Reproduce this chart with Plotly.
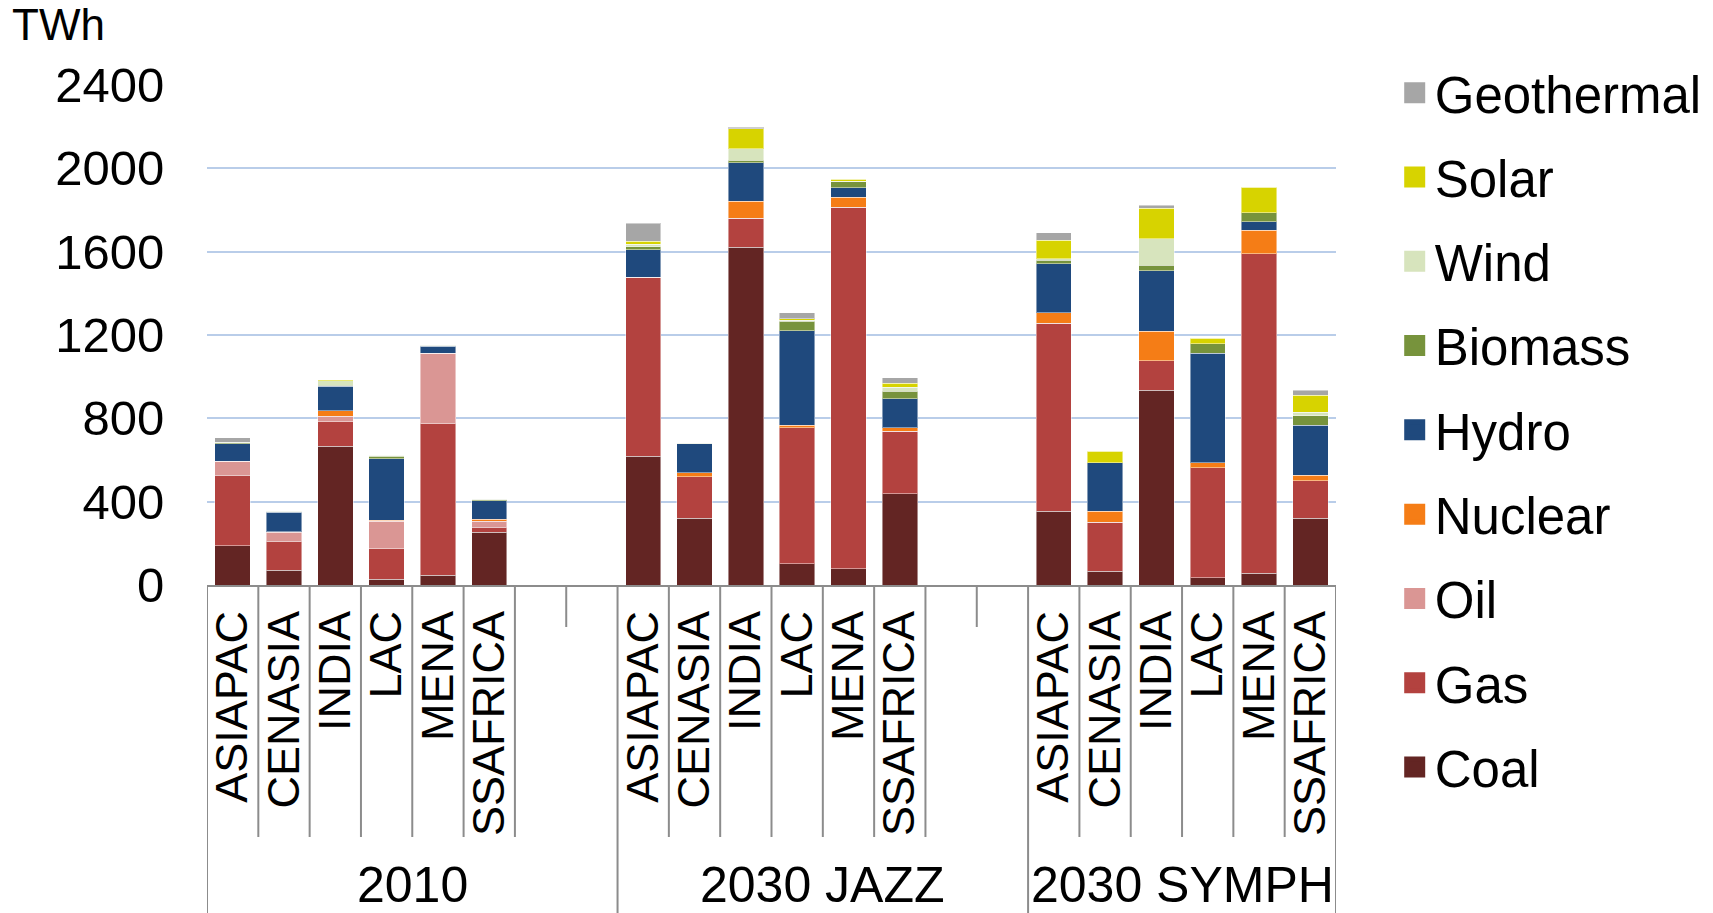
import plotly.graph_objects as go

# ---------------- data ----------------
groups = ["2010", "2030 JAZZ", "2030 SYMPH"]
regions = ["ASIAPAC", "CENASIA", "INDIA", "LAC", "MENA", "SSAFRICA"]
blank_slots = [2, 2, 0]  # empty category slots after each group's regions

fuels = ["Coal", "Gas", "Oil", "Nuclear", "Hydro", "Biomass", "Wind", "Solar", "Geothermal"]
colors = {
    "Coal": "#632523",
    "Gas": "#B3423F",
    "Oil": "#DA9694",
    "Nuclear": "#F57D16",
    "Hydro": "#1F497D",
    "Biomass": "#77933C",
    "Wind": "#D7E4BD",
    "Solar": "#D7D300",
    "Geothermal": "#A6A6A6",
}

# TWh values, order of `regions`
coal_2010 = [189, 70, 666, 27, 46, 253]
gas_2010 = [337, 141, 118, 147, 728, 24]
oil_2010 = [68, 42, 27, 132, 338, 30]
nuclear_2010 = [0, 3, 26, 4, 0, 8]
hydro_2010 = [84, 94, 117, 296, 34, 90]
biomass_2010 = [8, 3, 6, 13, 4, 6]
wind_2010 = [0, 0, 21, 5, 0, 0]
solar_2010 = [0, 0, 5, 0, 0, 0]
geothermal_2010 = [20, 0, 0, 0, 0, 0]

coal_jazz = [618, 320, 1622, 102, 77, 438]
gas_jazz = [860, 200, 138, 653, 1737, 301]
oil_jazz = [0, 0, 0, 0, 0, 0]
nuclear_jazz = [0, 19, 82, 13, 48, 15]
hydro_jazz = [132, 138, 185, 453, 45, 140]
biomass_jazz = [14, 3, 13, 46, 29, 37]
wind_jazz = [11, 0, 53, 5, 2, 19]
solar_jazz = [15, 0, 96, 6, 10, 18]
geothermal_jazz = [86, 0, 8, 28, 0, 26]

coal_symph = [354, 67, 936, 34, 56, 320]
gas_symph = [902, 234, 141, 529, 1533, 181]
oil_symph = [0, 0, 0, 0, 0, 0]
nuclear_symph = [51, 53, 141, 23, 115, 27]
hydro_symph = [235, 233, 291, 526, 40, 240]
biomass_symph = [16, 0, 27, 46, 43, 45]
wind_symph = [7, 0, 125, 0, 0, 17]
solar_symph = [89, 56, 147, 26, 122, 80]
geothermal_symph = [36, 0, 16, 0, 0, 24]

y_ticks = [0, 400, 800, 1200, 1600, 2000, 2400]
y_unit = "TWh"

values = {
    "Coal": [coal_2010, coal_jazz, coal_symph],
    "Gas": [gas_2010, gas_jazz, gas_symph],
    "Oil": [oil_2010, oil_jazz, oil_symph],
    "Nuclear": [nuclear_2010, nuclear_jazz, nuclear_symph],
    "Hydro": [hydro_2010, hydro_jazz, hydro_symph],
    "Biomass": [biomass_2010, biomass_jazz, biomass_symph],
    "Wind": [wind_2010, wind_jazz, wind_symph],
    "Solar": [solar_2010, solar_jazz, solar_symph],
    "Geothermal": [geothermal_2010, geothermal_jazz, geothermal_symph],
}

# ---------------- category slots ----------------
cats, tick_text, slot_group, slot_blank = [], [], [], []
for gi, g in enumerate(groups):
    for r in regions:
        cats.append(f"{g}|{r}")
        tick_text.append(r)
        slot_group.append(gi)
        slot_blank.append(False)
    for b in range(blank_slots[gi]):
        cats.append(f"{g}|blank{b}")
        tick_text.append("")
        slot_group.append(gi)
        slot_blank.append(True)
N = len(cats)

FONT = "Liberation Sans, Arial, sans-serif"
W, H = 1713, 913
L, R = 207, 377
AX_TOP, AX_BOT = 85, 585  # pixel rows of the y-axis domain
PW = W - L - R

def py(px):  # pixel row -> paper y (margins t=b=0)
    return (H - px) / H

fig = go.Figure()

for f in fuels:
    ys = []
    for gi in range(len(groups)):
        ys += list(values[f][gi]) + [None] * blank_slots[gi]
    fig.add_trace(go.Bar(
        x=cats, y=ys, name=f, showlegend=False,
        marker=dict(color=colors[f], line=dict(color="rgba(255,255,255,0.45)", width=1)),
    ))

# legend entries (top: Geothermal ... bottom: Coal)
for f in reversed(fuels):
    fig.add_trace(go.Scatter(
        x=[None], y=[None], mode="markers", name=f, legendgroup=f,
        marker=dict(symbol="square", size=16, color=colors[f],
                    line=dict(color=colors[f], width=5)),
    ))

# ---------------- tick / divider lines ----------------
shapes = []
line_col = "#8C8C8C"
for k in range(N + 1):
    xb = k - 0.5
    if k == 0 or k == N or slot_group[k - 1] != slot_group[k]:
        y1 = 0
    elif slot_blank[k - 1] and slot_blank[k]:
        y1 = py(AX_BOT + 42)
    else:
        y1 = py(AX_BOT + 252)
    shapes.append(dict(type="line", xref="x", yref="paper", x0=xb, x1=xb,
                       y0=py(AX_BOT), y1=y1, line=dict(color=line_col, width=2)))

annotations = [dict(text=y_unit, xref="paper", yref="paper", x=-(L - 10) / PW, y=py(24),
                    xanchor="left", yanchor="middle", showarrow=False,
                    font=dict(family=FONT, size=44, color="black"))]
start = 0
for gi, g in enumerate(groups):
    n = len(regions) + blank_slots[gi]
    center = start + (n - 1) / 2
    annotations.append(dict(text=g, xref="x", yref="paper", x=center, y=py(885),
                            xanchor="center", yanchor="middle", showarrow=False,
                            font=dict(family=FONT, size=50, color="black")))
    start += n

fig.update_layout(
    width=W, height=H,
    margin=dict(l=L, r=R, t=0, b=0, autoexpand=False),
    barmode="stack", bargap=0.31,
    plot_bgcolor="white", paper_bgcolor="white",
    font=dict(family=FONT, color="black"),
    xaxis=dict(
        type="category", categoryorder="array", categoryarray=cats,
        tickmode="array", tickvals=cats, ticktext=tick_text,
        tickangle=-90, tickfont=dict(family=FONT, size=45, color="black"),
        ticks="outside", ticklen=6, tickcolor="rgba(0,0,0,0)",
        showline=True, linecolor=line_col, linewidth=2,
        showgrid=False, zeroline=False, range=[-0.5, N - 0.5],
    ),
    yaxis=dict(
        domain=[py(AX_BOT), py(AX_TOP)],
        range=[0, 2400], tickmode="array", tickvals=y_ticks,
        tickfont=dict(family=FONT, size=49, color="black"),
        ticks="outside", ticklen=32, tickcolor="rgba(0,0,0,0)",
        showgrid=True, gridcolor="#B9CDE9", gridwidth=1.5,
        zeroline=False, showline=False,
    ),
    legend=dict(x=1.052, xanchor="left", y=py(53), yanchor="top",
                font=dict(family=FONT, size=51, color="black"),
                traceorder="grouped", tracegroupgap=15,
                bgcolor="rgba(0,0,0,0)"),
    shapes=shapes,
    annotations=annotations,
    showlegend=True,
)

fig.write_html("out.html",
               config={"displayModeBar": False},
               post_script="document.body.style.margin='0';document.body.style.overflow='hidden';")
